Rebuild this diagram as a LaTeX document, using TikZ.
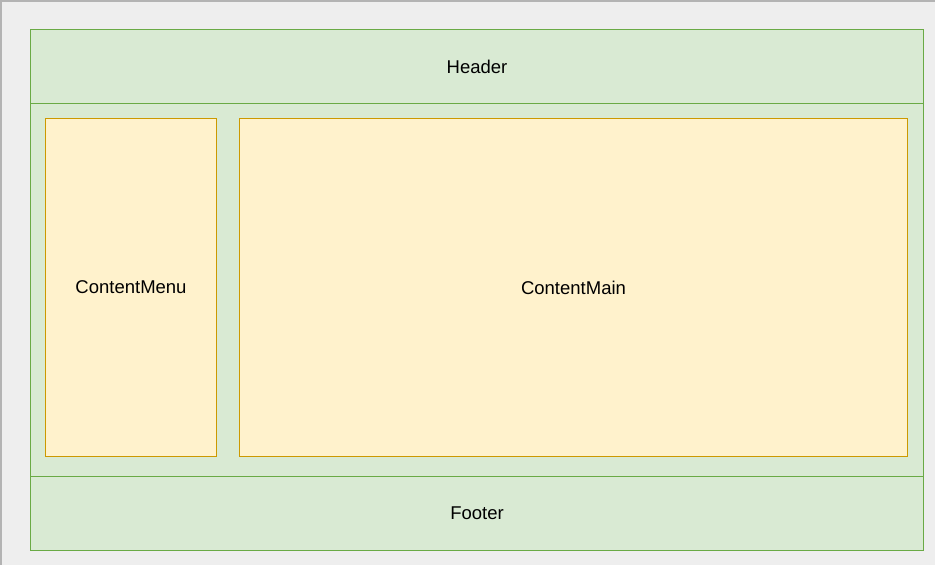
\documentclass[tikz,border=0pt]{standalone}
\usepackage{fontspec}
\setmainfont{Liberation Sans}
\definecolor{bgc}{HTML}{EEEEEE}
\definecolor{bgline}{HTML}{B3B3B3}
\definecolor{gfill}{HTML}{D9EAD3}
\definecolor{gline}{HTML}{6AAA45}
\definecolor{yfill}{HTML}{FFF2CC}
\definecolor{yline}{HTML}{CC9900}
\begin{document}
\begin{tikzpicture}[x=1pt,y=-1pt,
  greenbox/.style={draw=gline,fill=gfill,line width=1pt,inner sep=0pt,outer sep=0pt,anchor=north west},
  yellowbox/.style={draw=yline,fill=yfill,line width=1pt,inner sep=0pt,outer sep=0pt,anchor=north west},
  lbl/.style={font=\fontsize{18.5}{21}\selectfont,text=black}]
\useasboundingbox (0,0) rectangle (935,565);
\fill[bgc] (0,0) rectangle (935,565);
\draw[bgline,line width=1.5pt] (0.75,565) -- (0.75,0.75) -- (935,0.75);
\draw[draw=gline,fill=gfill,line width=1pt] (30.5,29.5) rectangle (923.5,550.5);
\node[greenbox,minimum width=893pt,minimum height=74pt] (header) at (30.5,29.5) {};
\node[lbl] (headertext) at (header.center) {Header};
\node[greenbox,minimum width=893pt,minimum height=74pt] (footer) at (30.5,476.5) {};
\node[lbl] (footertext) at (footer.center) {Footer};
\node[yellowbox,minimum width=171pt,minimum height=338pt] (menu) at (45.5,118.5) {};
\node[lbl] (menutext) at (menu.center) {ContentMenu};
\node[yellowbox,minimum width=668pt,minimum height=338pt] (main) at (239.5,118.5) {};
\node[lbl] (maintext) at (main.center) {ContentMain};
\end{tikzpicture}
\end{document}
